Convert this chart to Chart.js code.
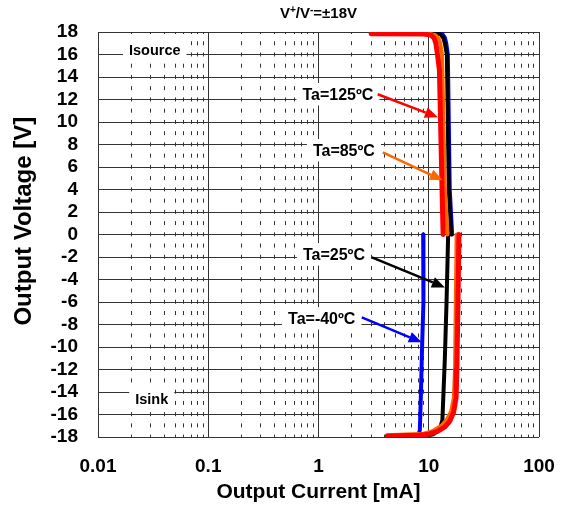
<!DOCTYPE html>
<html>
<head>
<meta charset="utf-8">
<script src="https://cdn.jsdelivr.net/npm/chart.js@4"></script>
<style>
  body { margin: 0; background: #fff; }
  #wrap { position: relative; width: 565px; height: 511px; }
  #title { position: absolute; left: 98px; width: 441px; top: 4px; text-align: center;
           font: bold 15px "Liberation Sans", Arial, sans-serif; line-height: 18px; color: #000; }
  #title sup { font-size: 10px; line-height: 0; vertical-align: 5px; }
</style>
</head>
<body>
<div id="wrap">
  <canvas id="chart" width="565" height="511"></canvas>
  <div id="title">V<sup>+</sup>/V<sup>-</sup>=±18V</div>
</div>
<script>
// --- 1. ข้อมูล (mA, V) ---
const xDecades = [0.01, 0.1, 1, 10, 100];
const xMinor = [0.02, 0.03, 0.04, 0.05, 0.06, 0.07, 0.08, 0.09,
                0.2, 0.3, 0.4, 0.5, 0.6, 0.7, 0.8, 0.9,
                2, 3, 4, 5, 6, 7, 8, 9,
                20, 30, 40, 50, 60, 70, 80, 90];
const yTickValues = [-18, -16, -14, -12, -10, -8, -6, -4, -2, 0, 2, 4, 6, 8, 10, 12, 14, 16, 18];

// Isource (บน)
const src125 = [[3.0, 17.85], [9, 17.82], [10.5, 17.72], [11.2, 17.45], [11.6, 17.0], [12.0, 16.0], [12.5, 14.6], [13.2, 4], [13.5, 0]];
const src85  = [[3.0, 17.88], [10, 17.86], [11.5, 17.72], [12.3, 17.4], [12.7, 17.0], [13.2, 16.0], [14.0, 4], [14.8, 0]];
const src25  = [[3.0, 17.94], [11, 17.92], [12.8, 17.8], [13.6, 17.45], [14.0, 17.0], [14.6, 16.0], [15.2, 4], [16.0, 0]];
const srcM40 = [[3.0, 17.98], [11.5, 17.96], [13.2, 17.85], [14.0, 17.5], [14.4, 17.0], [14.9, 16.0], [15.5, 4], [16.3, 0]];

// Isink (ล่าง)
const snk125 = [[18.8, 0], [18.4, -6], [18.0, -12], [17.7, -14.5], [16.8, -15.8], [15.5, -16.6], [14.0, -17.1], [12.0, -17.5], [10.0, -17.75], [8, -17.85], [4.2, -17.9]];
const snk85  = [[17.9, 0], [17.6, -6], [17.3, -12], [16.9, -14.5], [16.0, -15.7], [14.5, -16.5], [13.0, -17.0], [11.0, -17.45], [9, -17.7], [4.2, -17.85]];
const snk25  = [[15.0, 0], [14.5, -6], [14.0, -11], [13.3, -16.5], [12.6, -17.3], [11.0, -17.75], [9.5, -17.88]];
const snkM40 = [[8.9, 0], [9.0, -3], [8.9, -6], [8.7, -10], [8.5, -14], [8.3, -17.4], [8.0, -17.88]];

const tempLabels = ['Ta=125ºC', 'Ta=85ºC', 'Ta=25ºC', 'Ta=-40ºC'];
const tempColors = ['#ff0000', '#ff6600', '#000000', '#0000ff'];

// --- 2. ตำแหน่งข้อความ/ลูกศร (หน่วยข้อมูล) ---
const regionNotes = [
  { text: 'Isource', at: [0.0327, 16.38] },
  { text: 'Isink', at: [0.0307, -14.65] }
];
const tempNotes = [
  { at: [1.50, 12.47], from: [3.44, 12.47], to: [12.1, 10.42] },
  { at: [1.70, 7.49], from: [3.83, 7.31], to: [13.4, 4.82] },
  { at: [1.38, -1.76], from: [3.05, -2.03], to: [14.0, -4.70] },
  { at: [1.07, -7.45], from: [2.47, -7.36], to: [8.65, -9.58] }
];

const FONT = '"Liberation Sans", Arial, sans-serif';
const toXY = pts => pts.map(([x, y]) => ({ x, y }));

function line(data, color, width) {
  return { data: toXY(data), borderColor: color, backgroundColor: color, borderWidth: width,
           pointRadius: 0, tension: 0, fill: false, borderJoinStyle: 'round', borderCapStyle: 'round' };
}

// ดาต้าเซ็ตแรกจะถูกวาดไว้บนสุด
const datasets = [
  line(src125, tempColors[0], 5), line(snk125, tempColors[0], 5),
  line(src85, tempColors[1], 4), line(snk85, tempColors[1], 4),
  line(src25, tempColors[2], 4), line(snk25, tempColors[2], 4),
  line(srcM40, tempColors[3], 4), line(snkM40, tempColors[3], 4)
];

function boxText(ctx, text, px, py, size) {
  ctx.font = 'bold ' + size + 'px ' + FONT;
  const w = ctx.measureText(text).width;
  ctx.fillStyle = '#fff';
  ctx.fillRect(px - w / 2 - 6, py - size * 0.7, w + 12, size * 1.4);
  ctx.fillStyle = '#000';
  ctx.fillText(text, px, py + 1);
}

function arrow(ctx, x1, y1, x2, y2, color) {
  const a = Math.atan2(y2 - y1, x2 - x1);
  const len = 13, half = 5.5;
  const bx = x2 - len * Math.cos(a), by = y2 - len * Math.sin(a);
  ctx.strokeStyle = color; ctx.fillStyle = color; ctx.lineWidth = 2.5;
  ctx.beginPath(); ctx.moveTo(x1, y1); ctx.lineTo(bx, by); ctx.stroke();
  ctx.beginPath();
  ctx.moveTo(x2, y2);
  ctx.lineTo(bx + half * Math.sin(a), by - half * Math.cos(a));
  ctx.lineTo(bx - half * Math.sin(a), by + half * Math.cos(a));
  ctx.closePath(); ctx.fill();
}

const notesPlugin = {
  id: 'notes',
  beforeDatasetsDraw(chart) {
    const { ctx, scales: { x, y } } = chart;
    ctx.save();
    ctx.textAlign = 'center'; ctx.textBaseline = 'middle';
    regionNotes.forEach(n => boxText(ctx, n.text, x.getPixelForValue(n.at[0]), y.getPixelForValue(n.at[1]), 14.5));
    tempNotes.forEach((n, i) => boxText(ctx, tempLabels[i], x.getPixelForValue(n.at[0]), y.getPixelForValue(n.at[1]), 16));
    ctx.restore();
  },
  afterDatasetsDraw(chart) {
    const { ctx, scales: { x, y } } = chart;
    ctx.save();
    tempNotes.forEach((n, i) => arrow(ctx,
      x.getPixelForValue(n.from[0]), y.getPixelForValue(n.from[1]),
      x.getPixelForValue(n.to[0]), y.getPixelForValue(n.to[1]), tempColors[i]));
    ctx.restore();
  }
};

Chart.defaults.font.family = FONT;
Chart.defaults.color = '#000';

const noSidePad = s => { s.paddingLeft = 0; s.paddingRight = 0; };

new Chart(document.getElementById('chart'), {
  type: 'line',
  data: { datasets },
  plugins: [notesPlugin],
  options: {
    responsive: false,
    animation: false,
    layout: { padding: { top: 32, right: 26, bottom: 0, left: 0 } },
    plugins: { legend: { display: false }, tooltip: { enabled: false } },
    scales: {
      x: {
        type: 'logarithmic', position: 'bottom', min: 0.01, max: 100,
        afterBuildTicks: s => { s.ticks = xDecades.map(v => ({ value: v })); },
        afterFit: s => { s.height = 74; noSidePad(s); },
        grid: { color: '#333', lineWidth: 1, drawTicks: false },
        border: { display: false },
        ticks: { autoSkip: false, maxRotation: 0, padding: 18, font: { size: 19, weight: 'bold' },
                 callback: v => String(v) },
        title: { display: true, text: 'Output Current [mA]', font: { size: 21, weight: 'bold' },
                 padding: { top: 0, bottom: 6 } }
      },
      xm: {
        type: 'logarithmic', position: 'top', min: 0.01, max: 100,
        afterBuildTicks: s => { s.ticks = xMinor.map(v => ({ value: v })); },
        afterFit: s => { s.height = 0; noSidePad(s); },
        grid: { color: '#333', lineWidth: 1, drawTicks: false },
        border: { display: false, dash: [4, 7.24], dashOffset: 2 },
        ticks: { display: false }
      },
      y: {
        type: 'linear', min: -18, max: 18,
        afterBuildTicks: s => { s.ticks = yTickValues.map(v => ({ value: v })); },
        afterFit: s => { s.width = 98; },
        grid: { color: '#333', lineWidth: 1, drawTicks: false },
        border: { display: false },
        ticks: { autoSkip: false, padding: 20, font: { size: 19, weight: 'bold' } },
        title: { display: true, text: '    Output Voltage [V]', font: { size: 24, weight: 'bold' },
                 padding: { top: 10, bottom: 0 } }
      }
    }
  }
});
</script>
</body>
</html>
